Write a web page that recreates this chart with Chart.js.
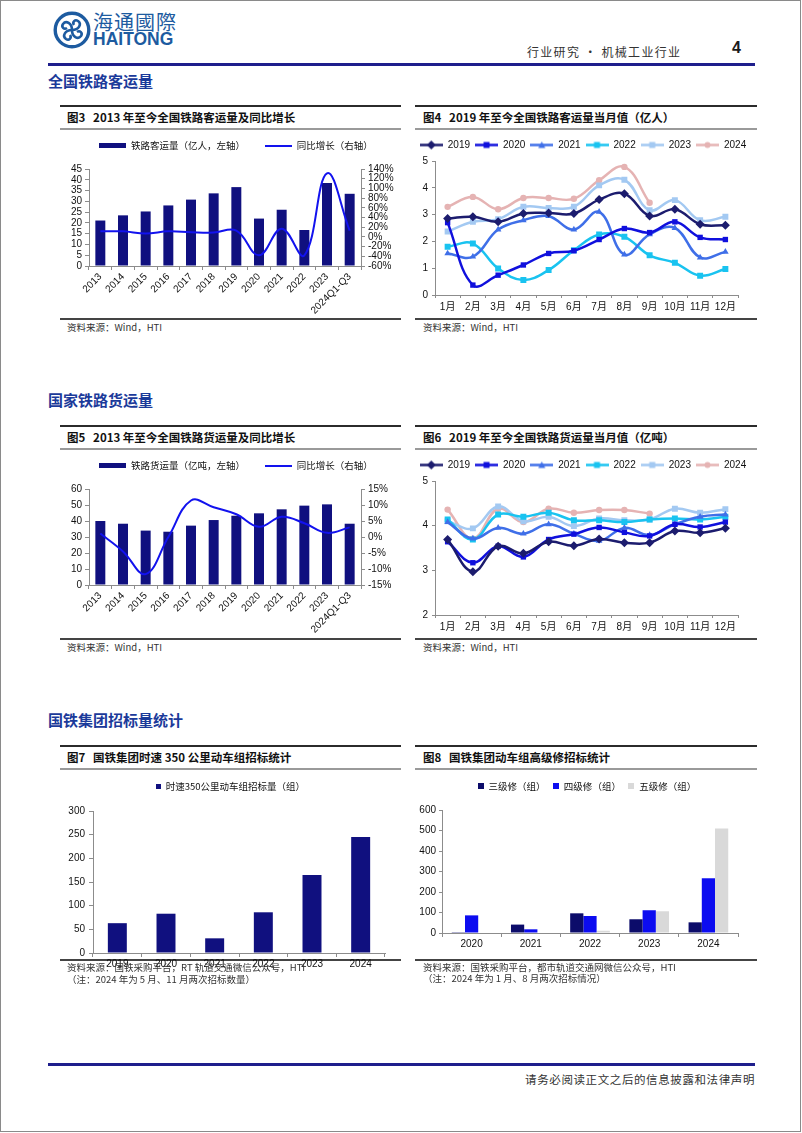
<!DOCTYPE html>
<html lang="zh-CN">
<head>
<meta charset="utf-8">
<title>行业研究 • 机械工业行业</title>
<script src="https://cdn.jsdelivr.net/npm/chart.js@4.4.1/dist/chart.umd.min.js"></script>
<style>
  html, body { margin: 0; padding: 0; background: #fff; }
  #page { position: relative; width: 802px; height: 1133px; overflow: hidden; font-family: "Noto Sans CJK SC", sans-serif; color: #1a1a1a; }
  .frame { position: absolute; left: 0; top: 0; width: 801px; height: 1132px; border: 1px solid #8a8a8a; box-sizing: border-box; pointer-events: none; }
  .t { position: absolute; white-space: nowrap; line-height: 1; }
  .rule { position: absolute; }
  canvas { position: absolute; }
  .sec { left: 48px; font-size: 15px; font-weight: 700; color: #1b3a9a; }
  .cap { font-size: 11.5px; font-weight: 700; color: #111; }
  .src { font-size: 9.5px; color: #333; }
  .top { height: 2px; background: #2b2b2b; }
  .mid { height: 2px; background: #9a9a9a; }
  .bot { height: 1.5px; background: #444; }
</style>
</head>
<body>
<div id="page">
  <!-- header -->
  <svg style="position:absolute;left:53px;top:11px" width="38" height="38" viewBox="0 0 38 38">
    <circle cx="19" cy="19" r="16.8" fill="none" stroke="#1d5ba0" stroke-width="3.4"/>
    <g fill="none" stroke="#1d5ba0" stroke-width="2.6">
      <path d="M19 19 C19 12 13 9 10 13 C8 16 11 19 14 17"/>
      <path d="M19 19 C26 19 29 13 25 10 C22 8 19 11 21 14"/>
      <path d="M19 19 C19 26 25 29 28 25 C30 22 27 19 24 21"/>
      <path d="M19 19 C12 19 9 25 13 28 C16 30 19 27 17 24"/>
    </g>
  </svg>
  <div class="t" style="left:93px;top:12px;font-size:20px;letter-spacing:1px;color:#1d5ba0;font-family:'Noto Sans CJK TC',sans-serif;">海通國際</div>
  <div class="t" style="left:93px;top:31px;font-size:17.5px;font-weight:700;color:#1d5ba0;font-family:'Liberation Sans',Arial,sans-serif;">HAITONG</div>
  <div class="t" style="left:527px;top:46px;font-size:12px;letter-spacing:1.3px;color:#333;">行业研究 • 机械工业行业</div>
  <div class="t" style="left:732px;top:40px;font-size:16px;font-weight:700;font-family:'Liberation Sans',Arial,sans-serif;">4</div>
  <div class="rule" style="left:48px;top:63px;width:707px;height:2.5px;background:#1e1e8c;"></div>

  <!-- section 1 -->
  <div class="t sec" style="top:73px;">全国铁路客运量</div>
  <div class="rule top" style="left:60px;top:105px;width:341px;"></div>
  <div class="rule mid" style="left:60px;top:128px;width:341px;"></div>
  <div class="rule bot" style="left:60px;top:318px;width:341px;"></div>
  <div class="rule top" style="left:415px;top:105px;width:342px;"></div>
  <div class="rule mid" style="left:415px;top:128px;width:342px;"></div>
  <div class="rule bot" style="left:415px;top:318px;width:342px;"></div>
  <div class="t cap" style="left:67px;top:112px;">图3&nbsp;&nbsp; 2013 年至今全国铁路客运量及同比增长</div>
  <div class="t cap" style="left:423px;top:112px;">图4&nbsp;&nbsp; 2019 年至今全国铁路客运量当月值（亿人）</div>
  <canvas id="c3" width="340" height="197" style="left:60px;top:121px;"></canvas>
  <canvas id="c4" width="342" height="185" style="left:415px;top:131px;"></canvas>
  <div class="t src" style="left:67px;top:323px;">资料来源：Wind，HTI</div>
  <div class="t src" style="left:423px;top:323px;">资料来源：Wind，HTI</div>

  <!-- section 2 -->
  <div class="t sec" style="top:392px;">国家铁路货运量</div>
  <div class="rule top" style="left:60px;top:425px;width:341px;"></div>
  <div class="rule mid" style="left:60px;top:448px;width:341px;"></div>
  <div class="rule bot" style="left:60px;top:638px;width:341px;"></div>
  <div class="rule top" style="left:415px;top:425px;width:342px;"></div>
  <div class="rule mid" style="left:415px;top:448px;width:342px;"></div>
  <div class="rule bot" style="left:415px;top:638px;width:342px;"></div>
  <div class="t cap" style="left:67px;top:432px;">图5&nbsp;&nbsp; 2013 年至今全国铁路货运量及同比增长</div>
  <div class="t cap" style="left:423px;top:432px;">图6&nbsp;&nbsp; 2019 年至今全国铁路货运量当月值（亿吨）</div>
  <canvas id="c5" width="340" height="196" style="left:60px;top:441px;"></canvas>
  <canvas id="c6" width="342" height="185" style="left:415px;top:451px;"></canvas>
  <div class="t src" style="left:67px;top:643px;">资料来源：Wind，HTI</div>
  <div class="t src" style="left:423px;top:643px;">资料来源：Wind，HTI</div>

  <!-- section 3 -->
  <div class="t sec" style="top:712px;">国铁集团招标量统计</div>
  <div class="rule top" style="left:60px;top:745px;width:341px;"></div>
  <div class="rule mid" style="left:60px;top:768px;width:341px;"></div>
  <div class="rule bot" style="left:60px;top:959px;width:341px;"></div>
  <div class="rule top" style="left:415px;top:745px;width:342px;"></div>
  <div class="rule mid" style="left:415px;top:768px;width:342px;"></div>
  <div class="rule bot" style="left:415px;top:959px;width:342px;"></div>
  <div class="t cap" style="left:67px;top:752px;">图7&nbsp;&nbsp; 国铁集团时速 350 公里动车组招标统计</div>
  <div class="t cap" style="left:423px;top:752px;">图8&nbsp;&nbsp; 国铁集团动车组高级修招标统计</div>
  <canvas id="c7" width="340" height="200" style="left:60px;top:772px;"></canvas>
  <canvas id="c8" width="342" height="178" style="left:415px;top:774px;"></canvas>
  <div class="t src" style="left:67px;top:963px;">资料来源：国铁采购平台，RT 轨道交通微信公众号，HTI</div>
  <div class="t src" style="left:67px;top:975px;">（注：2024 年为 5 月、11 月两次招标数量）</div>
  <div class="t src" style="left:423px;top:963px;">资料来源：国铁采购平台，都市轨道交通网微信公众号，HTI</div>
  <div class="t src" style="left:423px;top:974px;">（注：2024 年为 1 月、8 月两次招标情况）</div>

  <!-- footer -->
  <div class="rule" style="left:48px;top:1063px;width:707px;height:2.5px;background:#1e1e8c;"></div>
  <div class="t" style="right:47px;top:1074px;font-size:11.5px;letter-spacing:0.6px;color:#333;">请务必阅读正文之后的信息披露和法律声明</div>
  <div class="frame"></div>
</div>

<script>
// annual passenger / freight
const yearCats = ['2013', '2014', '2015', '2016', '2017', '2018', '2019', '2020', '2021', '2022', '2023', '2024Q1-Q3'];
const passengerVolume = [21.1, 23.5, 25.3, 28.1, 30.8, 33.7, 36.6, 22.0, 26.1, 16.7, 38.5, 33.5];
const passengerGrowth = [11.5, 11.5, 7, 11.5, 9.7, 9, 13, -38, 17, -38, 131, 13];
const freightVolume = [40.0, 38.3, 34.0, 33.3, 37.1, 40.6, 43.3, 44.8, 47.3, 49.6, 50.4, 38.3];
const freightGrowth = [1.1, -4.5, -11.6, 0, 11.4, 9.3, 7.1, 3.2, 6.3, 4.3, 1.3, 3.0];

// monthly values
const months = ['1月', '2月', '3月', '4月', '5月', '6月', '7月', '8月', '9月', '10月', '11月', '12月'];
const seriesYears = ['2019', '2020', '2021', '2022', '2023', '2024'];
const passenger2019 = [2.85, 2.92, 2.73, 3.04, 3.06, 3.04, 3.56, 3.78, 2.95, 3.2, 2.64, 2.6];
const passenger2020 = [2.7, 0.37, 0.74, 1.12, 1.55, 1.65, 2.07, 2.48, 2.33, 2.73, 2.15, 2.07];
const passenger2021 = [1.55, 1.43, 2.44, 2.79, 2.94, 2.44, 3.1, 1.51, 2.26, 2.5, 1.4, 1.61];
const passenger2022 = [1.8, 1.92, 0.99, 0.56, 0.93, 1.67, 2.26, 2.17, 1.48, 1.2, 0.72, 0.97];
const passenger2023 = [2.37, 2.73, 2.83, 3.29, 3.25, 3.29, 4.09, 4.3, 3.16, 3.54, 2.79, 2.92];
const passenger2024 = [3.29, 3.66, 3.2, 3.62, 3.62, 3.59, 4.28, 4.78, 3.44];
const freight2019 = [3.69, 2.97, 3.54, 3.38, 3.64, 3.55, 3.7, 3.62, 3.62, 3.88, 3.84, 3.94];
const freight2020 = [3.64, 3.17, 3.54, 3.3, 3.69, 3.81, 3.96, 3.85, 3.77, 4.03, 3.97, 4.08];
const freight2021 = [4.08, 3.71, 3.95, 3.82, 4.03, 3.82, 3.66, 3.95, 3.79, 4.03, 4.2, 4.25];
const freight2022 = [4.14, 3.69, 4.25, 4.2, 4.29, 4.12, 4.12, 4.08, 4.14, 4.16, 4.14, 4.2];
const freight2023 = [4.1, 3.94, 4.43, 4.1, 4.2, 3.99, 4.16, 4.12, 4.14, 4.38, 4.29, 4.37];
const freight2024 = [4.36, 3.71, 4.38, 4.08, 4.38, 4.29, 4.35, 4.35, 4.27];

// tenders
const emuYears = ['2019', '2020', '2021', '2022', '2023', '2024'];
const emu350Tender = [63, 83, 31, 86, 165, 245];
const repairYears = ['2020', '2021', '2022', '2023', '2024'];
const level3Repair = [4, 41, 96, 67, 52];
const level4Repair = [86, 18, 83, 111, 267];
const level5Repair = [0, 0, 11, 106, 510];

const CJK = '"Noto Sans CJK SC", sans-serif';
const LAT = '"Liberation Sans", "Noto Sans CJK SC", Arial, sans-serif';
const AXIS = '#8c8c8c';
const NAVY = '#10107f';
const BLUE = '#1212ee';
const yearColors = ['#1c1c6e', '#1010dd', '#3f6fe8', '#19c3f0', '#a3c9f2', '#e5b3b3'];
const yearMarkers = ['rectRot', 'rect', 'triangle', 'rect', 'rect', 'circle'];
const markerSizes = [4.5, 3.8, 3.8, 4.2, 4.2, 3.2];

Chart.defaults.font.family = LAT;
Chart.defaults.font.size = 10;
Chart.defaults.color = '#111';
Chart.defaults.animation = false;
Chart.defaults.plugins.tooltip.enabled = false;

// small legend pictures
function makeIcon(w, h, draw) {
  const c = document.createElement('canvas');
  c.width = w; c.height = h;
  draw(c.getContext('2d'), w, h);
  return c;
}
function boxIcon(color, w, h) {
  return makeIcon(w, h, (g) => { g.fillStyle = color; g.fillRect(0, 0, w, h); });
}
function seriesIcon(color, marker) {
  return makeIcon(23, 11, (g, w, h) => {
    const cx = w / 2, cy = h / 2;
    g.strokeStyle = color; g.lineWidth = 2.5;
    g.beginPath(); g.moveTo(0, cy); g.lineTo(w, cy); g.stroke();
    g.fillStyle = color;
    g.beginPath();
    if (marker === 'rectRot') {
      g.moveTo(cx, cy - 4.5); g.lineTo(cx + 4.5, cy); g.lineTo(cx, cy + 4.5); g.lineTo(cx - 4.5, cy);
    } else if (marker === 'rect') {
      g.rect(cx - 3, cy - 3, 6, 6);
    } else if (marker === 'triangle') {
      g.moveTo(cx, cy - 3.5); g.lineTo(cx + 3.5, cy + 3); g.lineTo(cx - 3.5, cy + 3);
    } else {
      g.arc(cx, cy, 3, 0, Math.PI * 2);
    }
    g.closePath(); g.fill();
  });
}
function iconLabels(icons) {
  return function (chart) {
    const items = Chart.defaults.plugins.legend.labels.generateLabels(chart);
    items.forEach((it) => { it.pointStyle = icons[it.datasetIndex]; });
    return items;
  };
}
function fixedWidth(w) { return (s) => { s.width = w; }; }
function fixedHeight(h) { return (s) => { s.height = h; }; }
// fixes legend band height and nudges legend sideways
function legendBox(height, dx) {
  return {
    id: 'legendBox',
    beforeInit(chart) {
      const fit = chart.legend.fit;
      chart.legend.fit = function () { fit.call(this); this.height = height; };
    },
    afterLayout(chart) { chart.legend.left += dx; chart.legend.right += dx; }
  };
}
function axisGrid(len) {
  return { drawOnChartArea: false, tickLength: len, color: AXIS };
}

// bar + growth line with two y axes
function dualChart(id, barLabel, bars, growth, left, right) {
  return new Chart(document.getElementById(id), {
    type: 'bar',
    data: {
      labels: yearCats,
      datasets: [
        { label: barLabel, data: bars, backgroundColor: NAVY, yAxisID: 'y', order: 2, categoryPercentage: 0.44, barPercentage: 1 },
        { type: 'line', label: '同比增长（右轴）', data: growth, borderColor: BLUE, borderWidth: 2, pointRadius: 0, tension: 0.4, yAxisID: 'y1', order: 1 }
      ]
    },
    options: {
      responsive: false,
      layout: { padding: 0 },
      plugins: {
        legend: {
          labels: {
            usePointStyle: true, pointStyleWidth: 27, padding: 20,
            font: { family: CJK, size: 9.5 },
            generateLabels: iconLabels([boxIcon(NAVY, 27, 5), boxIcon(BLUE, 27, 2)]),
            sort: (a, b) => a.datasetIndex - b.datasetIndex
          }
        }
      },
      scales: {
        x: {
          grid: axisGrid(4), border: { color: AXIS },
          ticks: { minRotation: 45, maxRotation: 45, autoSkip: false, padding: 1 },
          afterFit: fixedHeight(52)
        },
        y: {
          position: 'left', min: left[0], max: left[1],
          ticks: { stepSize: left[2], padding: 3, autoSkip: false },
          grid: axisGrid(4), border: { color: AXIS },
          afterFit: fixedWidth(29)
        },
        y1: {
          position: 'right', min: right[0], max: right[1],
          ticks: { stepSize: right[2], padding: 3, autoSkip: false, callback: (v) => v + '%' },
          grid: axisGrid(4), border: { color: AXIS },
          afterFit: fixedWidth(39)
        }
      }
    },
    plugins: [legendBox(48, 6)]
  });
}

// monthly multi-year lines
function monthlyChart(id, seriesList, yMin, yMax) {
  return new Chart(document.getElementById(id), {
    type: 'line',
    data: {
      labels: months,
      datasets: seriesList.map((vals, i) => ({
        label: seriesYears[i], data: vals,
        borderColor: yearColors[i], backgroundColor: yearColors[i],
        borderWidth: 2.5, tension: 0.4,
        pointStyle: yearMarkers[i], pointRadius: markerSizes[i], pointBorderWidth: 0
      }))
    },
    options: {
      responsive: false,
      layout: { padding: { top: 4, right: 0, left: 0, bottom: 0 } },
      plugins: {
        legend: {
          labels: {
            usePointStyle: true, pointStyleWidth: 23, padding: 5,
            font: { family: LAT, size: 10 },
            generateLabels: iconLabels(yearColors.map((c, i) => seriesIcon(c, yearMarkers[i])))
          }
        }
      },
      scales: {
        x: {
          offset: true, grid: Object.assign(axisGrid(3), { offset: true }), border: { color: AXIS },
          ticks: { padding: 3, autoSkip: false, maxRotation: 0 },
          afterFit: fixedHeight(21)
        },
        y: {
          min: yMin, max: yMax, ticks: { stepSize: 1, padding: 4, autoSkip: false },
          grid: axisGrid(3), border: { color: AXIS },
          afterFit: fixedWidth(20)
        },
        // empty right band so the legend keeps the full width
        gap: {
          type: 'linear', position: 'right', display: true,
          grid: { display: false }, border: { display: false }, ticks: { display: false },
          afterFit: fixedWidth(19)
        }
      }
    },
    plugins: [legendBox(26, -3)]
  });
}

dualChart('c3', '铁路客运量（亿人，左轴）', passengerVolume, passengerGrowth, [0, 45, 5], [-60, 140, 20]);
monthlyChart('c4', [passenger2019, passenger2020, passenger2021, passenger2022, passenger2023, passenger2024], 0, 5);
dualChart('c5', '铁路货运量（亿吨，左轴）', freightVolume, freightGrowth, [0, 60, 10], [-15, 15, 5]);
monthlyChart('c6', [freight2019, freight2020, freight2021, freight2022, freight2023, freight2024], 2, 5);

new Chart(document.getElementById('c7'), {
  type: 'bar',
  data: {
    labels: emuYears,
    datasets: [{ label: '时速350公里动车组招标量（组）', data: emu350Tender, backgroundColor: NAVY, categoryPercentage: 0.39, barPercentage: 1 }]
  },
  options: {
    responsive: false,
    layout: { padding: { right: 15 } },
    plugins: {
      legend: {
        labels: {
          usePointStyle: true, pointStyleWidth: 5, padding: 10,
          font: { family: CJK, size: 9.5 },
          generateLabels: iconLabels([boxIcon(NAVY, 5, 5)])
        }
      }
    },
    scales: {
      x: { grid: axisGrid(4), border: { color: AXIS }, ticks: { padding: 1 }, afterFit: fixedHeight(19) },
      y: { min: 0, max: 300, ticks: { stepSize: 50, padding: 4, autoSkip: false }, grid: axisGrid(4), border: { color: AXIS }, afterFit: fixedWidth(33) }
    }
  },
  plugins: [legendBox(39, 8)]
});

new Chart(document.getElementById('c8'), {
  type: 'bar',
  data: {
    labels: repairYears,
    datasets: [
      { label: '三级修（组）', data: level3Repair, backgroundColor: '#0c0c6a' },
      { label: '四级修（组）', data: level4Repair, backgroundColor: '#0c0cf0' },
      { label: '五级修（组）', data: level5Repair, backgroundColor: '#d9d9d9' }
    ]
  },
  options: {
    responsive: false,
    layout: { padding: { right: 19 } },
    datasets: { bar: { categoryPercentage: 0.67, barPercentage: 1 } },
    plugins: {
      legend: {
        labels: {
          usePointStyle: true, pointStyleWidth: 6, padding: 7.5,
          font: { family: CJK, size: 9.5 },
          generateLabels: iconLabels([boxIcon('#0c0c6a', 6, 6), boxIcon('#0c0cf0', 6, 6), boxIcon('#d9d9d9', 6, 6)])
        }
      }
    },
    scales: {
      x: { grid: axisGrid(4), border: { color: AXIS }, ticks: { padding: 1 }, afterFit: fixedHeight(19) },
      y: { min: 0, max: 600, ticks: { stepSize: 100, padding: 3, autoSkip: false }, grid: axisGrid(3), border: { color: AXIS }, afterFit: fixedWidth(27) }
    }
  },
  plugins: [legendBox(36, 10.5)]
});
</script>
</body>
</html>
